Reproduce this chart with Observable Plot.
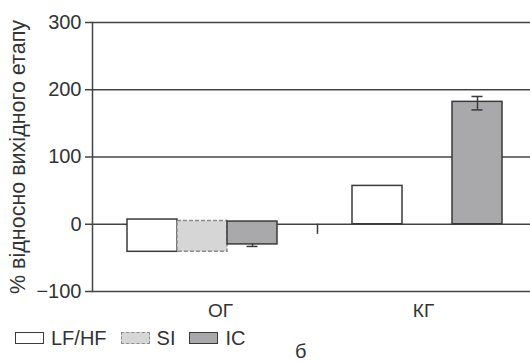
<!DOCTYPE html>
<html><head><meta charset="utf-8">
<script src="https://cdn.jsdelivr.net/npm/d3@7"></script>
<script src="https://cdn.jsdelivr.net/npm/@observablehq/plot@0.6"></script>
<style>
html,body{margin:0;padding:0;background:#fff;overflow:hidden;}
body{width:530px;height:363px;position:relative;font-family:"Liberation Sans",Arial,sans-serif;color:#333;}
#chart svg{display:block;}
#legend{position:absolute;left:15px;top:326px;display:flex;align-items:center;font-size:20px;line-height:24px;}
#legend .sw{display:inline-block;width:27px;height:10px;margin-right:7px;}
#legend .item{display:flex;align-items:center;margin-right:14px;}
#sub{position:absolute;left:295px;top:340px;font-size:20px;line-height:22px;}
</style></head><body>
<div id="chart"></div>
<div id="legend"></div>
<div id="sub">б</div>
<script>
const groups = ["ОГ", "КГ"];
const series = ["LF/HF", "SI", "IC"];
const ogLow = [-41, -41, -30];
const ogHigh = [7, 5, 4];
const kgLow = [0, null, 0];
const kgHigh = [57, null, 182];
const errGroup = ["ОГ", "КГ"];
const errSeries = ["IC", "IC"];
const errLow = [-33, 170];
const errHigh = [-30, 190];
const strayGroup = ["КГ"];
const strayLow = [-15];
const strayHigh = [0];
const yTicks = [-100, 0, 100, 200, 300];
const gridTicks = [0, 100, 200, 300];
const yLabel = "% відносно вихідного етапу";

const fills = ["#ffffff", "#d6d6d6", "#a9a9ab"];
const strokes = ["#3a3a3a", "#8c8c8c", "#3a3a3a"];
const dashes = [null, "4,2", null];

const bars = [];
series.forEach((s, i) => {
  if (ogLow[i] != null) bars.push({g: groups[0], s, lo: ogLow[i], hi: ogHigh[i]});
  if (kgLow[i] != null) bars.push({g: groups[1], s, lo: kgLow[i], hi: kgHigh[i]});
});
const errs = errGroup.map((g, i) => ({g, s: errSeries[i], lo: errLow[i], hi: errHigh[i]}));
const stray = strayGroup.map((g, i) => ({g, s: series[0], lo: strayLow[i], hi: strayHigh[i]}));
const labels = groups.map(g => ({g, s: series[1]}));

const chart = Plot.plot({
  width: 530,
  height: 325,
  marginLeft: 92,
  marginRight: -12,
  marginTop: 22,
  marginBottom: 34,
  style: {fontFamily: "Liberation Sans, Arial, sans-serif", fontSize: "20px", color: "#333", background: "#fff", overflow: "hidden"},
  fx: {domain: groups, paddingInner: 0, paddingOuter: 0, axis: null},
  x: {domain: series, paddingInner: 0, paddingOuter: 0.706, align: 0.472, axis: null},
  y: {domain: [-100, 300], axis: null},
  color: {domain: series, range: fills},
  marks: [
    Plot.ruleY(gridTicks, {stroke: "#444", strokeWidth: 1.5}),
    Plot.ruleY([-100], {stroke: "#444", strokeWidth: 1.5}),
    ...series.map((s, i) => Plot.barY(bars.filter(d => d.s === s), {
      fx: "g", x: "s", y1: "lo", y2: "hi", fill: "s",
      stroke: strokes[i], strokeWidth: 1.5, strokeDasharray: dashes[i], inset: 0
    })),
    Plot.ruleX(errs, {fx: "g", x: "s", y1: "lo", y2: "hi", stroke: "#3a3a3a", strokeWidth: 1.5}),
    Plot.tickY(errs, {fx: "g", x: "s", y: "lo", stroke: "#3a3a3a", strokeWidth: 1.5, insetLeft: 19.5, insetRight: 19.5}),
    Plot.tickY(errs.filter(d => d.hi > 0), {fx: "g", x: "s", y: "hi", stroke: "#3a3a3a", strokeWidth: 1.5, insetLeft: 19.5, insetRight: 19.5}),
    Plot.ruleX(stray, {fx: "g", x: "s", y1: "lo", y2: "hi", stroke: "#3a3a3a", strokeWidth: 1.5, dx: -60}),
    Plot.text(labels.filter(d => d.g === groups[0]), {fx: "g", x: "s", text: "g", frameAnchor: "bottom", dy: 19, dx: 18, fontSize: 19, fill: "#333", lineAnchor: "middle"}),
    Plot.text(labels.filter(d => d.g === groups[1]), {fx: "g", x: "s", text: "g", frameAnchor: "bottom", dy: 19, dx: -4, fontSize: 19, fill: "#333", lineAnchor: "middle"}),
    Plot.frame({anchor: "left", facetAnchor: "left", stroke: "#444", strokeWidth: 1.5}),
    Plot.axisY({ticks: yTicks, tickSize: 7, tickPadding: 4, fontSize: 20, fill: "#333", stroke: "#444", strokeWidth: 1.5,
      label: null}),
    Plot.axisY({ticks: [], tickSize: 0, fontSize: 21.5, fill: "#333",
      label: yLabel, labelAnchor: "center", labelArrow: "none", labelOffset: 83})
  ]
});
document.getElementById("chart").appendChild(chart);

const legend = document.getElementById("legend");
series.forEach((s, i) => {
  const item = document.createElement("div");
  item.className = "item";
  const sw = document.createElement("span");
  sw.className = "sw";
  sw.style.background = fills[i];
  sw.style.border = `1.5px ${dashes[i] ? "dashed" : "solid"} ${strokes[i]}`;
  item.appendChild(sw);
  const t = document.createElement("span");
  t.textContent = s;
  item.appendChild(t);
  legend.appendChild(item);
});
</script>
</body></html>
